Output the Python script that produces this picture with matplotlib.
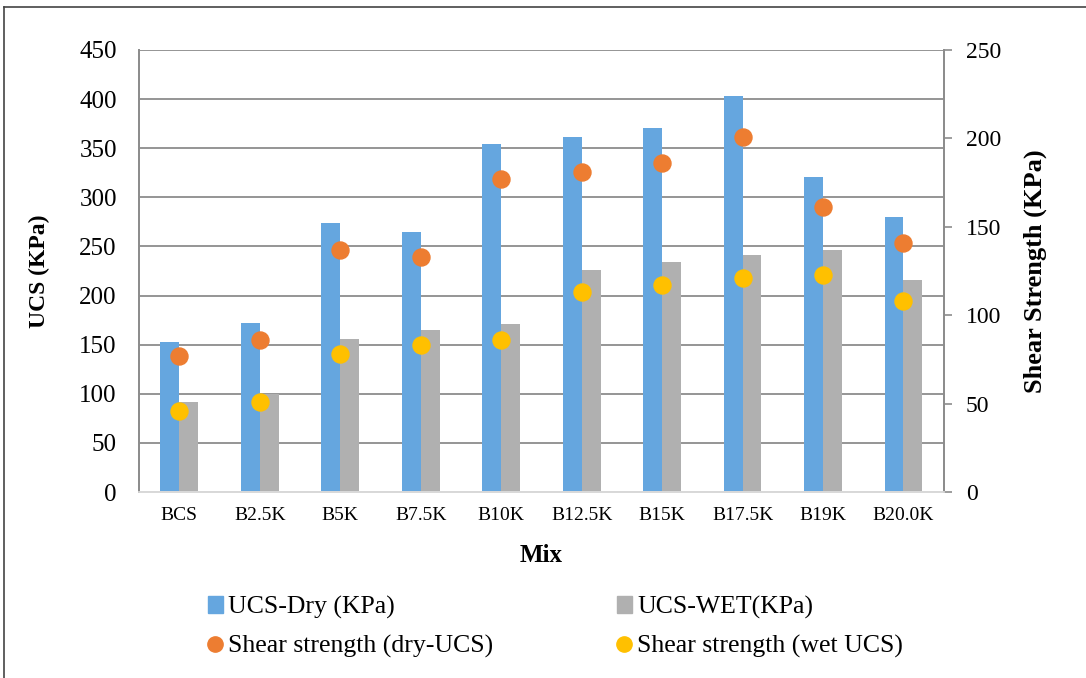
import numpy as np
import matplotlib
matplotlib.use("Agg")
import matplotlib.pyplot as plt
from matplotlib.lines import Line2D
from matplotlib.patches import Patch

plt.rcParams['font.family'] = ['Liberation Serif', 'DejaVu Serif']

mixes = ["BCS", "B2.5K", "B5K", "B7.5K", "B10K", "B12.5K", "B15K", "B17.5K", "B19K", "B20.0K"]
ucs_dry = [153, 172, 274, 265, 354, 361, 371, 403, 321, 280]
ucs_wet = [92, 100, 156, 165, 171, 226, 234, 241, 246, 216]
shear_dry = [77, 86, 137, 133, 177, 181, 186, 201, 161, 141]
shear_wet = [46, 51, 78, 83, 86, 113, 117, 121, 123, 108]

blue = "#65a6df"
gray = "#b0b0b0"
orange = "#ed7d31"
yellow = "#ffc000"
grid_c = "#8c8c8c"

fig = plt.figure(figsize=(10.86, 6.78), dpi=100)
ax = fig.add_axes([0.128, 0.2743, 0.741, 0.652])
ax2 = ax.twinx()

x = np.arange(len(mixes))
w = 0.235
ax.bar(x - w / 2, ucs_dry, w, color=blue, zorder=2)
ax.bar(x + w / 2, ucs_wet, w, color=gray, zorder=2)
ax2.scatter(x, shear_dry, s=150, color=orange, zorder=3)
ax2.scatter(x, shear_wet, s=150, color=yellow, zorder=3)

ax.set_xlim(-0.5, len(mixes) - 0.5)
ax.set_ylim(0, 450)
ax.set_yticks(np.arange(0, 451, 50))
ax2.set_ylim(0, 250)
ax2.set_yticks(np.arange(0, 251, 50))
ax.yaxis.grid(True, color=grid_c, linewidth=1.3, zorder=0)
ax.set_axisbelow(True)

ax.set_xticks(x)
ax.set_xticklabels(mixes, fontsize=14)
ax.tick_params(axis='x', length=0, pad=11)
ax.tick_params(axis='y', length=0, labelsize=18, pad=16)
ax2.tick_params(axis='y', length=6, width=1.2, color=grid_c, labelsize=17, pad=10)

for a in (ax, ax2):
    a.spines['top'].set_visible(False)
    a.spines['left'].set_color(grid_c)
    a.spines['right'].set_color(grid_c)
    a.spines['bottom'].set_color("#d9d9d9")
    a.spines['left'].set_linewidth(1.3)
    a.spines['right'].set_linewidth(1.3)
    a.spines['bottom'].set_linewidth(1.3)

ax.set_ylabel("UCS (KPa)", fontsize=17, fontweight='bold', labelpad=21)
ax2.set_ylabel("Shear Strength (KPa)", fontsize=19, fontweight='bold', labelpad=16)
ax.set_xlabel("Mix", fontsize=18, fontweight='bold', labelpad=14)

# legend fills column by column, so order is dry/shear-dry then wet/shear-wet
handles = [
    Patch(color=blue, label="UCS-Dry (KPa)"),
    Line2D([], [], marker='o', linestyle='', markersize=11, color=orange,
           label="Shear strength (dry-UCS)"),
    Patch(color=gray, label="UCS-WET(KPa)"),
    Line2D([], [], marker='o', linestyle='', markersize=11, color=yellow,
           label="Shear strength (wet UCS)"),
]
fig.legend(handles=handles, ncol=2, loc='upper left', bbox_to_anchor=(0.17, 0.155),
           frameon=False, fontsize=18.5, handlelength=0.6, handleheight=0.6,
           handletextpad=0.2, columnspacing=4.8, labelspacing=0.6)

# outer frame
fig.add_artist(Line2D([0.004, 1.0], [0.99, 0.99], transform=fig.transFigure,
                      color="#444444", linewidth=1.2))
fig.add_artist(Line2D([0.004, 0.004], [0.0, 0.99], transform=fig.transFigure,
                      color="#444444", linewidth=1.2))

fig.savefig("out.png", dpi=100)
